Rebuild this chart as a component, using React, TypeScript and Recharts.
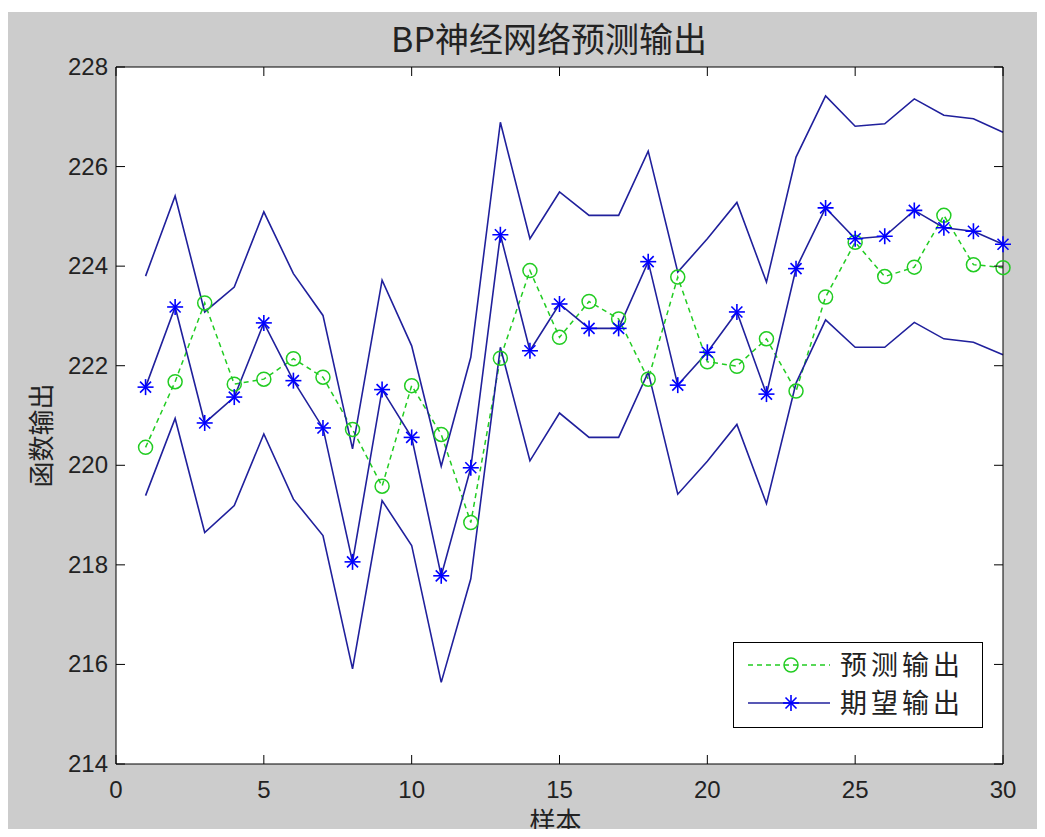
import { LineChart, Line, XAxis, YAxis, CartesianGrid, Legend } from 'recharts';

// values (MATLAB figure, BP network output)
const samples = [1, 2, 3, 4, 5, 6, 7, 8, 9, 10, 11, 12, 13, 14, 15, 16, 17, 18, 19, 20, 21, 22, 23, 24, 25, 26, 27, 28, 29, 30];
const predicted = [220.36, 221.68, 223.26, 221.63, 221.73, 222.14, 221.77, 220.72, 219.58, 221.6, 220.62, 218.85, 222.15, 223.91, 222.57, 223.29, 222.94, 221.73, 223.78, 222.08, 221.99, 222.54, 221.49, 223.38, 224.48, 223.79, 223.98, 225.02, 224.03, 223.97];
const expected = [221.57, 223.18, 220.85, 221.37, 222.86, 221.7, 220.75, 218.06, 221.52, 220.56, 217.78, 219.95, 224.63, 222.3, 223.24, 222.75, 222.75, 224.09, 221.61, 222.27, 223.08, 221.43, 223.95, 225.17, 224.55, 224.6, 225.12, 224.77, 224.7, 224.44];
const upperBound = [223.8, 225.41, 223.08, 223.58, 225.09, 223.85, 223.01, 220.33, 223.72, 222.4, 219.98, 222.17, 226.89, 224.55, 225.49, 225.02, 225.02, 226.31, 223.88, 224.55, 225.28, 223.68, 226.19, 227.42, 226.81, 226.86, 227.36, 227.03, 226.96, 226.69];
const lowerBound = [219.39, 220.94, 218.65, 219.19, 220.63, 219.32, 218.59, 215.91, 219.29, 218.39, 215.64, 217.72, 222.37, 220.09, 221.05, 220.56, 220.56, 221.87, 219.42, 220.08, 220.82, 219.23, 221.65, 222.92, 222.37, 222.37, 222.87, 222.54, 222.47, 222.22];

const xTicks = [0, 5, 10, 15, 20, 25, 30];
const yTicks = [214, 216, 218, 220, 222, 224, 226, 228];
const legendOrder = ['predicted', 'expected'];

const data = samples.map((s, i) => ({
  sample: s,
  predicted: predicted[i],
  expected: expected[i],
  upper: upperBound[i],
  lower: lowerBound[i],
}));

const NUM_FONT = '"Liberation Sans", Arial, sans-serif';
const CJK_FONT = '"Noto Sans CJK SC", "Noto Sans", sans-serif';
const BLUE_LINE = '#20209c';
const BLUE_MARK = '#0000ff';
const GREEN = '#22cc22';
const TICK = 9;

function StarDot(props: any) {
  const { cx, cy, index } = props;
  if (cx == null || cy == null) return <g key={index} />;
  const r = 8;
  const d = 5.5;
  return (
    <g key={index} stroke={BLUE_MARK} strokeWidth={1.6}>
      <line x1={cx - r} y1={cy} x2={cx + r} y2={cy} />
      <line x1={cx} y1={cy - r} x2={cx} y2={cy + r} />
      <line x1={cx - d} y1={cy - d} x2={cx + d} y2={cy + d} />
      <line x1={cx - d} y1={cy + d} x2={cx + d} y2={cy - d} />
    </g>
  );
}

function LeftTick({ x, y, payload }: any) {
  return (
    <g>
      <line x1={x} y1={y} x2={x + TICK} y2={y} stroke="#000" />
      <text x={x - 8} y={y} dy={8} textAnchor="end" fontSize={24} fontFamily={NUM_FONT} fill="#222">
        {payload.value}
      </text>
    </g>
  );
}

function RightTick({ x, y }: any) {
  return <line x1={x} y1={y} x2={x - TICK} y2={y} stroke="#000" />;
}

function BottomTick({ x, y, payload }: any) {
  return (
    <g>
      <line x1={x} y1={y} x2={x} y2={y - TICK} stroke="#000" />
      <text x={x} y={y + 34} textAnchor="middle" fontSize={24} fontFamily={NUM_FONT} fill="#222">
        {payload.value}
      </text>
    </g>
  );
}

function TopTick({ x, y }: any) {
  return <line x1={x} y1={y} x2={x} y2={y + TICK} stroke="#000" />;
}

function XTitle({ viewBox }: any) {
  return (
    <text x={viewBox.x + viewBox.width / 2 - 4} y={viewBox.y + 67} textAnchor="middle" fontSize={26} fontFamily={CJK_FONT} fill="#222">
      样本
    </text>
  );
}

function YTitle({ viewBox }: any) {
  const cx = viewBox.x - 76;
  const cy = viewBox.y + viewBox.height / 2 + 20;
  return (
    <text x={cx} y={cy} transform={`rotate(-90 ${cx} ${cy})`} textAnchor="middle" dominantBaseline="central" fontSize={26} fontFamily={CJK_FONT} fill="#222">
      函数输出
    </text>
  );
}

function LegendBox({ payload }: any) {
  const rows = legendOrder
    .map((k) => (payload || []).find((p: any) => p.dataKey === k))
    .filter(Boolean);
  return (
    <svg width={250} height={87} style={{ display: 'block' }}>
      <rect x={0.5} y={0.5} width={249} height={85} fill="#fff" stroke="#000" />
      {rows.map((p: any, i: number) => {
        const cy = 23 + i * 38;
        const isPred = p.dataKey === 'predicted';
        return (
          <g key={p.value}>
            {isPred ? (
              <g>
                <line x1={15} y1={cy} x2={97} y2={cy} stroke={GREEN} strokeWidth={1.5} strokeDasharray="5 4" />
                <circle cx={58} cy={cy} r={7} fill="none" stroke={GREEN} strokeWidth={1.5} />
              </g>
            ) : (
              <g>
                <line x1={15} y1={cy} x2={97} y2={cy} stroke={BLUE_LINE} strokeWidth={1.6} />
                <StarDot cx={58} cy={cy} index={i} />
              </g>
            )}
            <text x={107} y={cy + 10} fontSize={27} letterSpacing={4} fontFamily={CJK_FONT} fill="#222">
              {p.value}
            </text>
          </g>
        );
      })}
    </svg>
  );
}

export default function App() {
  return (
    <div style={{ position: 'relative', width: 1045, height: 837, margin: -8, background: '#fff', overflow: 'hidden' }}>
      <div style={{ position: 'absolute', left: 7, top: 12, right: 0, bottom: 0, background: '#cccccc' }} />
      <div
        style={{
          position: 'absolute',
          left: 0,
          width: 1098,
          top: 17,
          textAlign: 'center',
          fontSize: 34,
          lineHeight: '42px',
          fontFamily: CJK_FONT,
          color: '#222',
        }}
      >
        BP神经网络预测输出
      </div>
      <div style={{ position: 'absolute', left: 0, top: 0 }}>
        <LineChart width={1045} height={837} data={data} margin={{ top: 66, right: 41, bottom: 72, left: 115 }}>
          <CartesianGrid horizontal={false} vertical={false} fill="#fff" />
          <XAxis
            dataKey="sample"
            type="number"
            domain={[0, 30]}
            ticks={xTicks}
            interval={0}
            height={1}
            tickSize={0}
            tickMargin={0}
            axisLine={{ stroke: '#000' }}
            tickLine={false}
            tick={<BottomTick />}
            label={{ content: <XTitle /> }}
          />
          <XAxis
            xAxisId="top"
            orientation="top"
            dataKey="sample"
            type="number"
            domain={[0, 30]}
            ticks={xTicks}
            interval={0}
            height={1}
            tickSize={0}
            tickMargin={0}
            axisLine={{ stroke: '#000' }}
            tickLine={false}
            tick={<TopTick />}
          />
          <YAxis
            type="number"
            domain={[214, 228]}
            ticks={yTicks}
            interval={0}
            width={1}
            tickSize={0}
            tickMargin={0}
            allowDataOverflow
            axisLine={{ stroke: '#000' }}
            tickLine={false}
            tick={<LeftTick />}
            label={{ content: <YTitle /> }}
          />
          <YAxis
            yAxisId="right"
            orientation="right"
            type="number"
            domain={[214, 228]}
            ticks={yTicks}
            interval={0}
            width={1}
            tickSize={0}
            tickMargin={0}
            allowDataOverflow
            axisLine={{ stroke: '#000' }}
            tickLine={false}
            tick={<RightTick />}
          />
          <Line
            dataKey="predicted"
            name="预测输出"
            stroke={GREEN}
            strokeWidth={1.5}
            strokeDasharray="5 4"
            dot={{ r: 7, fill: 'none', stroke: GREEN, strokeWidth: 1.5, strokeDasharray: 'none' }}
            isAnimationActive={false}
          />
          <Line
            dataKey="expected"
            name="期望输出"
            stroke={BLUE_LINE}
            strokeWidth={1.6}
            dot={(p: any) => <StarDot key={p.index} {...p} />}
            isAnimationActive={false}
          />
          <Line
            dataKey="upper"
            xAxisId="top"
            yAxisId="right"
            legendType="none"
            stroke={BLUE_LINE}
            strokeWidth={1.6}
            dot={false}
            isAnimationActive={false}
          />
          <Line
            dataKey="lower"
            xAxisId="top"
            yAxisId="right"
            legendType="none"
            stroke={BLUE_LINE}
            strokeWidth={1.6}
            dot={false}
            isAnimationActive={false}
          />
          <Legend
            layout="horizontal"
            verticalAlign="middle"
            align="center"
            wrapperStyle={{ left: 733, top: 642, width: 250, height: 87 }}
            content={<LegendBox />}
          />
        </LineChart>
      </div>
    </div>
  );
}
